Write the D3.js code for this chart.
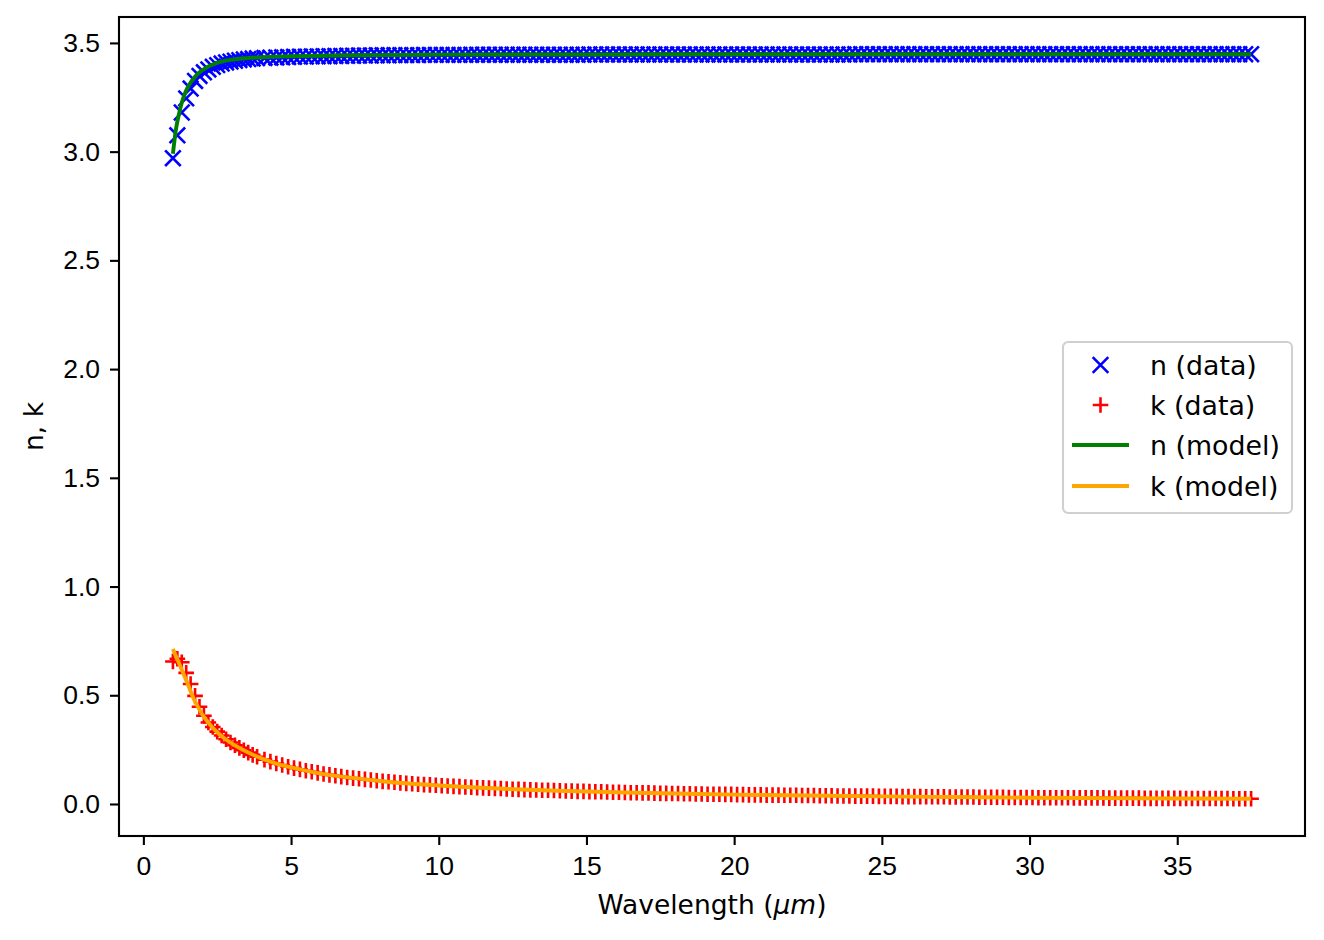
<!DOCTYPE html>
<html lang="en">
<head>
	<meta charset="UTF-8">
	<title>n, k vs wavelength</title>
	<script src="https://d3js.org/d3.v7.min.js"></script>
	<style>
		body {
			margin: 0;
			background: #fff;
		}
		svg {
			display: block;
			font-family: "DejaVu Sans", sans-serif;
		}
		.axis text {
			font-size: 26.5px;
			fill: #000;
		}
		.axis path, .axis line {
			stroke: #000;
			stroke-width: 2.1px;
		}
	</style>
</head>
<body>
	<svg width="1324" height="940"></svg>

	<script>
		// measured wavelengths (um)
		const wavelength = [
			1.00, 1.15, 1.30, 1.45, 1.60, 1.75, 1.90, 2.05, 2.20, 2.35, 2.50, 2.65, 2.80, 2.95, 3.10, 3.25, 3.40, 3.55, 3.70, 3.85,
			4.1, 4.3, 4.5, 4.7, 4.9, 5.1, 5.3, 5.5, 5.7, 5.9, 6.1, 6.3, 6.5, 6.7, 6.9, 7.1, 7.3, 7.5, 7.7, 7.9,
			8.1, 8.3, 8.5, 8.7, 8.9, 9.1, 9.3, 9.5, 9.7, 9.9, 10.1, 10.3, 10.5, 10.7, 10.9, 11.1, 11.3, 11.5, 11.7, 11.9,
			12.1, 12.3, 12.5, 12.7, 12.9, 13.1, 13.3, 13.5, 13.7, 13.9, 14.1, 14.3, 14.5, 14.7, 14.9, 15.1, 15.3, 15.5, 15.7, 15.9,
			16.1, 16.3, 16.5, 16.7, 16.9, 17.1, 17.3, 17.5, 17.7, 17.9, 18.1, 18.3, 18.5, 18.7, 18.9, 19.1, 19.3, 19.5, 19.7, 19.9,
			20.1, 20.3, 20.5, 20.7, 20.9, 21.1, 21.3, 21.5, 21.7, 21.9, 22.1, 22.3, 22.5, 22.7, 22.9, 23.1, 23.3, 23.5, 23.7, 23.9,
			24.1, 24.3, 24.5, 24.7, 24.9, 25.1, 25.3, 25.5, 25.7, 25.9, 26.1, 26.3, 26.5, 26.7, 26.9, 27.1, 27.3, 27.5, 27.7, 27.9,
			28.1, 28.3, 28.5, 28.7, 28.9, 29.1, 29.3, 29.5, 29.7, 29.9, 30.1, 30.3, 30.5, 30.7, 30.9, 31.1, 31.3, 31.5, 31.7, 31.9,
			32.1, 32.3, 32.5, 32.7, 32.9, 33.1, 33.3, 33.5, 33.7, 33.9, 34.1, 34.3, 34.5, 34.7, 34.9, 35.1, 35.3, 35.5, 35.7, 35.9,
			36.1, 36.3, 36.5, 36.7, 36.9, 37.1, 37.3, 37.5
		];
		const nData = [
			2.970, 3.075, 3.180, 3.245, 3.290, 3.325, 3.348, 3.365, 3.378, 3.390, 3.398, 3.405, 3.410, 3.414, 3.418, 3.421, 3.424, 3.426, 3.428, 3.430,
			3.431, 3.432, 3.433, 3.434, 3.435, 3.436, 3.437, 3.437, 3.438, 3.438, 3.439, 3.439, 3.440, 3.440, 3.441, 3.441, 3.442, 3.442, 3.442, 3.443,
			3.443, 3.443, 3.444, 3.444, 3.444, 3.444, 3.444, 3.445, 3.445, 3.445, 3.445, 3.445, 3.445, 3.445, 3.445, 3.446, 3.446, 3.446, 3.446, 3.446,
			3.446, 3.446, 3.446, 3.446, 3.446, 3.446, 3.446, 3.446, 3.446, 3.446, 3.446, 3.446, 3.446, 3.446, 3.446, 3.447, 3.447, 3.447, 3.447, 3.447,
			3.447, 3.447, 3.447, 3.447, 3.447, 3.447, 3.447, 3.447, 3.447, 3.447, 3.447, 3.447, 3.447, 3.447, 3.447, 3.447, 3.447, 3.447, 3.447, 3.447,
			3.447, 3.447, 3.447, 3.447, 3.447, 3.447, 3.447, 3.447, 3.447, 3.447, 3.447, 3.447, 3.447, 3.447, 3.447, 3.447, 3.447, 3.447, 3.447, 3.447,
			3.448, 3.448, 3.448, 3.448, 3.448, 3.448, 3.448, 3.448, 3.448, 3.448, 3.448, 3.448, 3.448, 3.448, 3.448, 3.448, 3.448, 3.448, 3.448, 3.448,
			3.448, 3.448, 3.448, 3.448, 3.448, 3.448, 3.448, 3.448, 3.448, 3.448, 3.448, 3.448, 3.448, 3.448, 3.448, 3.448, 3.448, 3.448, 3.448, 3.448,
			3.448, 3.448, 3.448, 3.448, 3.448, 3.448, 3.448, 3.448, 3.448, 3.448, 3.448, 3.448, 3.448, 3.448, 3.448, 3.448, 3.448, 3.448, 3.448, 3.448,
			3.448, 3.448, 3.448, 3.448, 3.448, 3.448, 3.448, 3.448
		];
		const kData = [
			0.655, 0.668, 0.652, 0.603, 0.552, 0.497, 0.447, 0.406, 0.375, 0.354, 0.333, 0.315, 0.298, 0.283, 0.270, 0.258, 0.247, 0.236, 0.226, 0.217,
			0.204, 0.195, 0.186, 0.179, 0.171, 0.165, 0.159, 0.153, 0.148, 0.143, 0.138, 0.134, 0.130, 0.126, 0.122, 0.119, 0.116, 0.113, 0.110, 0.107,
			0.104, 0.102, 0.100, 0.097, 0.095, 0.093, 0.091, 0.089, 0.088, 0.086, 0.084, 0.083, 0.081, 0.080, 0.078, 0.077, 0.075, 0.074, 0.073, 0.072,
			0.071, 0.069, 0.068, 0.067, 0.066, 0.065, 0.064, 0.063, 0.063, 0.062, 0.061, 0.060, 0.059, 0.058, 0.058, 0.057, 0.056, 0.056, 0.055, 0.054,
			0.054, 0.053, 0.052, 0.052, 0.051, 0.051, 0.050, 0.049, 0.049, 0.048, 0.048, 0.047, 0.047, 0.046, 0.046, 0.045, 0.045, 0.045, 0.044, 0.044,
			0.043, 0.043, 0.042, 0.042, 0.042, 0.041, 0.041, 0.041, 0.040, 0.040, 0.040, 0.039, 0.039, 0.039, 0.038, 0.038, 0.038, 0.037, 0.037, 0.037,
			0.036, 0.036, 0.036, 0.036, 0.035, 0.035, 0.035, 0.035, 0.034, 0.034, 0.034, 0.034, 0.033, 0.033, 0.033, 0.033, 0.032, 0.032, 0.032, 0.032,
			0.032, 0.031, 0.031, 0.031, 0.031, 0.031, 0.030, 0.030, 0.030, 0.030, 0.030, 0.029, 0.029, 0.029, 0.029, 0.029, 0.029, 0.028, 0.028, 0.028,
			0.028, 0.028, 0.028, 0.027, 0.027, 0.027, 0.027, 0.027, 0.027, 0.026, 0.026, 0.026, 0.026, 0.026, 0.026, 0.026, 0.025, 0.025, 0.025, 0.025,
			0.025, 0.025, 0.025, 0.025, 0.024, 0.024, 0.024, 0.024
		];

		// fitted model curves
		const modelWavelength = [1.0, 1.1, 1.2, 1.3, 1.4, 1.5, 1.6, 1.7, 1.8, 1.9, 2.0, 2.25, 2.5, 2.75, 3.0, 3.5, 4.0, 4.5, 5.0, 6.0, 7.0, 8.0, 9.0, 10.0, 12.0, 14.0, 16.0, 18.0, 20.0, 22.5, 25.0, 27.5, 30.0, 32.5, 35.0, 37.5];
		const nModel = [2.990, 3.100, 3.170, 3.225, 3.265, 3.295, 3.318, 3.336, 3.352, 3.365, 3.375, 3.395, 3.408, 3.417, 3.423, 3.430, 3.434, 3.437, 3.439, 3.441, 3.443, 3.444, 3.445, 3.446, 3.447, 3.447, 3.447, 3.448, 3.448, 3.448, 3.448, 3.448, 3.448, 3.448, 3.448, 3.448];
		const kModel = [0.713, 0.680, 0.650, 0.617, 0.585, 0.553, 0.518, 0.485, 0.458, 0.434, 0.410, 0.366, 0.330, 0.301, 0.278, 0.240, 0.210, 0.186, 0.168, 0.140, 0.121, 0.106, 0.094, 0.085, 0.071, 0.061, 0.054, 0.048, 0.043, 0.039, 0.035, 0.032, 0.029, 0.027, 0.025, 0.024];

		const xTicks = [0, 5, 10, 15, 20, 25, 30, 35];
		const yTicks = [0.0, 0.5, 1.0, 1.5, 2.0, 2.5, 3.0, 3.5];
		const legendLabels = ['n (data)', 'k (data)', 'n (model)', 'k (model)'];

		const axL = 119, axR = 1305, axT = 17, axB = 836;
		const svg = d3.select('svg');

		// matplotlib style 5% margins
		const xExt = d3.extent(wavelength.concat(modelWavelength));
		const yExt = d3.extent(nData.concat(kData, nModel, kModel));
		const xPad = (xExt[1] - xExt[0]) * 0.05;
		const yPad = (yExt[1] - yExt[0]) * 0.05;

		const x = d3.scaleLinear().domain([xExt[0] - xPad, xExt[1] + xPad]).range([axL, axR]);
		const y = d3.scaleLinear().domain([yExt[0] - yPad, yExt[1] + yPad]).range([axB, axT]);

		const pts = wavelength.map((w, i) => ({ w: w, n: nData[i], k: kData[i] }));
		const s = 7.8;

		const xMark = (cx, cy) => `M${cx - s},${cy - s}L${cx + s},${cy + s}M${cx - s},${cy + s}L${cx + s},${cy - s}`;
		const plusMark = (cx, cy) => `M${cx - s},${cy}L${cx + s},${cy}M${cx},${cy - s}L${cx},${cy + s}`;

		const plot = svg.append('g');

		plot.append('g')
			.selectAll('path')
			.data(pts)
			.enter()
			.append('path')
			.attr('d', d => xMark(x(d.w), y(d.n)))
			.attr('stroke', 'blue')
			.attr('stroke-width', 2.6)
			.attr('fill', 'none');

		plot.append('g')
			.selectAll('path')
			.data(pts)
			.enter()
			.append('path')
			.attr('d', d => plusMark(x(d.w), y(d.k)))
			.attr('stroke', 'red')
			.attr('stroke-width', 2.6)
			.attr('fill', 'none');

		const model = modelWavelength.map((w, i) => ({ w: w, n: nModel[i], k: kModel[i] }));

		plot.append('path')
			.datum(model)
			.attr('fill', 'none')
			.attr('stroke', 'green')
			.attr('stroke-width', 3.9)
			.attr('d', d3.line().x(d => x(d.w)).y(d => y(d.n)).curve(d3.curveMonotoneX));

		plot.append('path')
			.datum(model)
			.attr('fill', 'none')
			.attr('stroke', 'orange')
			.attr('stroke-width', 3.9)
			.attr('d', d3.line().x(d => x(d.w)).y(d => y(d.k)).curve(d3.curveMonotoneX));

		// axes
		svg.append('g')
			.attr('class', 'axis')
			.attr('transform', `translate(0,${axB})`)
			.call(d3.axisBottom(x).tickValues(xTicks).tickSize(9).tickPadding(11).tickFormat(d3.format('d')))
			.call(g => g.select('.domain').remove());

		svg.append('g')
			.attr('class', 'axis')
			.attr('transform', `translate(${axL},0)`)
			.call(d3.axisLeft(y).tickValues(yTicks).tickSize(9).tickPadding(10).tickFormat(d3.format('.1f')))
			.call(g => g.select('.domain').remove());

		svg.append('rect')
			.attr('x', axL)
			.attr('y', axT)
			.attr('width', axR - axL)
			.attr('height', axB - axT)
			.attr('fill', 'none')
			.attr('stroke', '#000')
			.attr('stroke-width', 2.1);

		const xl = svg.append('text')
			.attr('x', (axL + axR) / 2)
			.attr('y', 914)
			.attr('text-anchor', 'middle')
			.attr('font-size', 26.5);
		xl.append('tspan').text('Wavelength (');
		xl.append('tspan').attr('font-style', 'italic').text('\u03bcm');
		xl.append('tspan').text(')');

		svg.append('text')
			.attr('transform', `translate(43,${(axT + axB) / 2}) rotate(-90)`)
			.attr('text-anchor', 'middle')
			.attr('font-size', 26.5)
			.text('n, k');

		// legend
		const lg = svg.append('g').attr('transform', 'translate(1063,342)');
		lg.append('rect')
			.attr('width', 229)
			.attr('height', 171)
			.attr('rx', 5)
			.attr('fill', 'rgba(255,255,255,0.8)')
			.attr('stroke', '#d0d0d0')
			.attr('stroke-width', 2.1);

		const rows = [23, 63, 103, 144];
		lg.append('path').attr('d', xMark(37.5, rows[0])).attr('stroke', 'blue').attr('stroke-width', 2.6);
		lg.append('path').attr('d', plusMark(37.5, rows[1])).attr('stroke', 'red').attr('stroke-width', 2.6);
		lg.append('line').attr('x1', 9).attr('x2', 66).attr('y1', rows[2]).attr('y2', rows[2]).attr('stroke', 'green').attr('stroke-width', 3.9);
		lg.append('line').attr('x1', 9).attr('x2', 66).attr('y1', rows[3]).attr('y2', rows[3]).attr('stroke', 'orange').attr('stroke-width', 3.9);

		lg.selectAll('text.lab')
			.data(legendLabels)
			.enter()
			.append('text')
			.attr('class', 'lab')
			.attr('x', 87)
			.attr('y', (d, i) => rows[i] + 9.5)
			.attr('font-size', 26.8)
			.text(d => d);
	</script>
</body>
</html>
